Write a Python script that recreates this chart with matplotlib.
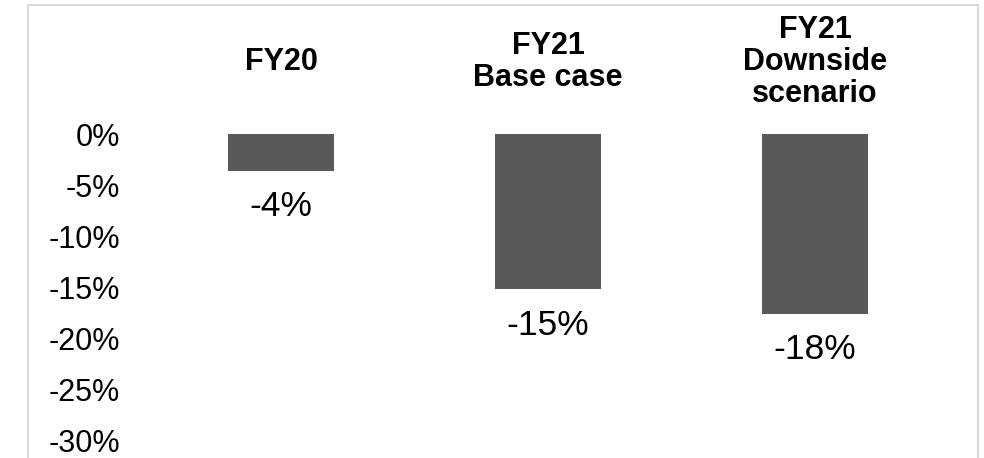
import matplotlib.pyplot as plt
from matplotlib.patches import Rectangle

plt.rcParams['font.family'] = ['Liberation Sans', 'DejaVu Sans']

# データ
categories = ['FY20', 'FY21\nBase case', 'FY21\nDownside\nscenario']
values = [-3.6, -15.2, -17.6]
value_labels = ['-4%', '-15%', '-18%']
yticks = [0, -5, -10, -15, -20, -25, -30]
ytick_labels = ['0%', '-5%', '-10%', '-15%', '-20%', '-25%', '-30%']

fig = plt.figure(figsize=(9.84, 4.58), dpi=100)
ax = fig.add_axes([0.150, 0.0393, 0.814, 0.6681])

x = range(len(categories))
ax.bar(x, values, width=0.4, color='#595959')
ax.set_xlim(-0.5, len(categories) - 0.5)
ax.set_ylim(-30, 0)

ax.set_yticks(yticks)
ax.set_yticklabels(ytick_labels, fontsize=22)
ax.tick_params(axis='y', length=0, pad=20)
ax.set_xticks([])
for s in ax.spines.values():
    s.set_visible(False)

# 値ラベル
for i, (v, lab) in enumerate(zip(values, value_labels)):
    ax.annotate(lab, (i, v), xytext=(0, -26), textcoords='offset points',
                ha='center', va='center', fontsize=25.5, annotation_clip=False)

# カテゴリ名 (上)
for i, c in enumerate(categories):
    ax.text(i, 1.235, c, transform=ax.get_xaxis_transform(), ha='center',
            va='center', fontsize=22, fontweight='bold', linespacing=1.08)

# 枠線
fig.patches.append(Rectangle((28 / 984, -0.05), 950 / 984, 1 - 5 / 458 + 0.05,
                             transform=fig.transFigure, fill=False,
                             edgecolor='#d9d9d9', linewidth=1.5))

fig.savefig('out.png', dpi=100)
